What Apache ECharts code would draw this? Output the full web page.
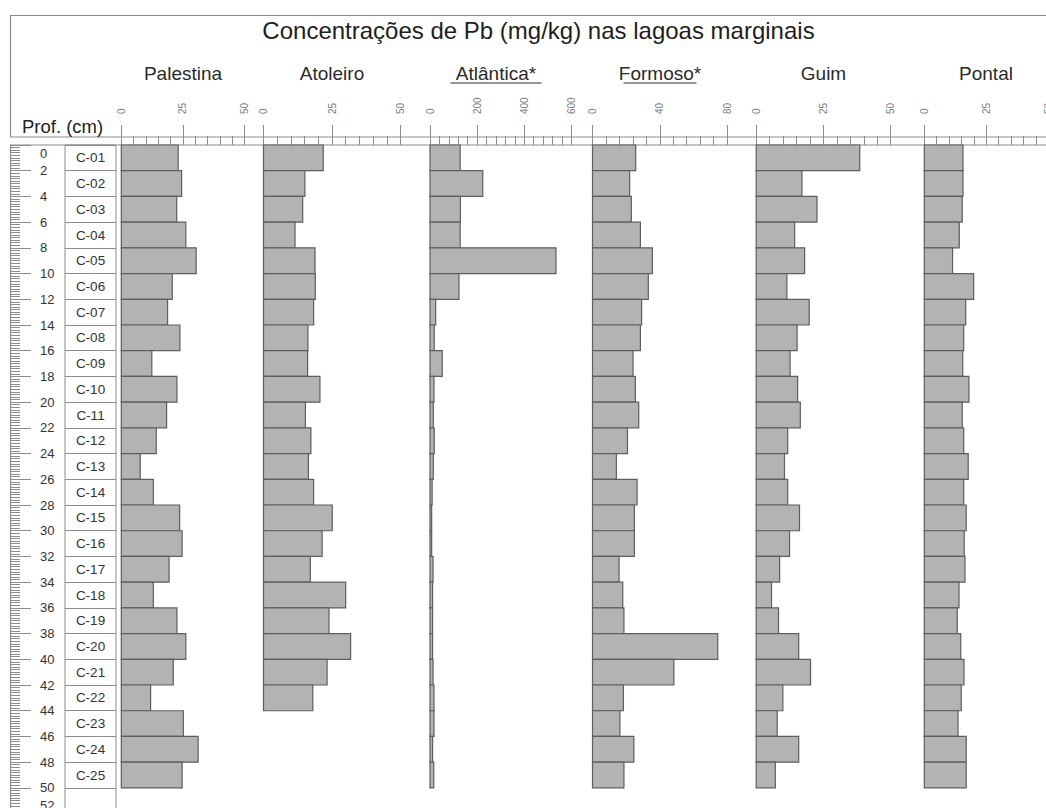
<!DOCTYPE html>
<html>
<head>
<meta charset="utf-8">
<title>Concentrações de Pb (mg/kg) nas lagoas marginais</title>
<script src="https://cdn.jsdelivr.net/npm/echarts@6.0.0/dist/echarts.min.js"></script>
<style>
  html, body { margin: 0; padding: 0; background: #ffffff; }
  #chart { width: 1046px; height: 808px; }
</style>
</head>
<body>
<div id="chart"></div>
<script>
// Core samples (2 cm slices) and Pb concentrations (mg/kg) per marginal lagoon
const samples = ['C-01','C-02','C-03','C-04','C-05','C-06','C-07','C-08','C-09','C-10',
                 'C-11','C-12','C-13','C-14','C-15','C-16','C-17','C-18','C-19','C-20',
                 'C-21','C-22','C-23','C-24','C-25'];
const depthTop = [0,2,4,6,8,10,12,14,16,18,20,22,24,26,28,30,32,34,36,38,40,42,44,46,48];
const sliceThickness = 2;

const palestina = [23.1,24.5,22.5,26.2,30.4,20.7,18.8,23.8,12.4,22.6,18.4,14.2,7.7,13.0,23.7,24.7,19.4,13.0,22.6,26.2,21.1,11.9,25.2,31.2,24.7];
const atoleiro  = [21.8,15.1,14.3,11.5,18.8,18.9,18.3,16.2,16.1,20.6,15.3,17.3,16.4,18.3,25.1,21.4,17.1,30.0,23.9,31.8,23.2,18.0];
const atlantica = [128,224,129,128,535,123,24,18,52,17,14,18,14,9,7,7,13,11,11,11,13,17,17,11,16];
const formoso   = [25.7,22.1,23.1,28.5,35.6,33.2,29.2,28.5,24.1,25.5,27.5,20.8,14.2,26.5,24.9,24.9,15.8,18.0,18.7,74.5,48.4,18.4,16.3,24.6,18.7];
const guim      = [38.5,17.0,22.6,14.3,18.0,11.4,19.7,15.2,12.6,15.4,16.4,11.7,10.5,11.7,16.1,12.4,8.7,5.7,8.3,15.8,20.2,9.9,7.8,15.8,7.1];
const pontal    = [15.6,15.6,15.3,14.1,11.4,19.9,16.7,15.9,15.5,18.0,15.3,15.9,17.7,15.9,16.9,16.1,16.4,14.0,13.3,14.7,16.0,14.9,13.6,16.9,16.9];

const lagoonNames  = ['Palestina','Atoleiro','Atlântica*','Formoso*','Guim','Pontal'];
const lagoonValues = [palestina, atoleiro, atlantica, formoso, guim, pontal];
const axisMax  = [50, 50, 600, 80, 50, 50];
const axisStep = [25, 25, 200, 40, 25, 25];
const underlined = [false, false, true, true, false, false];

const mainTitle = 'Concentrações de Pb (mg/kg) nas lagoas marginais';
const depthTitle = 'Prof. (cm)';
const depthMin = 0, depthMax = 52, depthStep = 2;

// ---- layout (pixels) ----
const FONT = "'Liberation Sans', Arial, sans-serif";
const LINE = '#8c8c8c';
const plotTop = 145, plotHeight = 668.6;
const panelX = [[121.3, 244.4], [263.5, 400.5], [430.0, 571.3], [592.5, 727.0], [756.2, 890.7], [924.3, 1048.3]];
const titleCenter = [183, 332, 496, 660, 823.5, 986];

const chart = echarts.init(document.getElementById('chart'), null, { renderer: 'svg' });

// grids may run past the canvas edge, so keep them exactly where they are placed
const fixedGrid = { outerBoundsMode: 'none', containLabel: false };

const depthLabelStyle = { fontSize: 13, color: '#333', fontFamily: FONT };

const grid = [
  Object.assign({ left: 10, top: plotTop, width: 1, height: plotHeight }, fixedGrid),      // depth ruler
  Object.assign({ left: 65, top: plotTop, width: 51, height: plotHeight, show: true,
    borderColor: LINE, borderWidth: 1, backgroundColor: 'transparent' }, fixedGrid)         // sample column
];
const xAxis = [
  { gridIndex: 0, type: 'value', show: false, min: 0, max: 1 },
  { gridIndex: 1, type: 'value', show: false, min: 0, max: 1 }
];
const yAxis = [
  {
    gridIndex: 0, type: 'value', inverse: true, position: 'left',
    min: depthMin, max: depthMax, interval: depthStep,
    axisLine: { show: true, lineStyle: { color: LINE, width: 1 } },
    axisTick: { show: true, inside: true, length: 21, lineStyle: { color: LINE, width: 1 } },
    minorTick: { show: true, splitNumber: 10, length: 10, lineStyle: { color: LINE, width: 1 } },
    axisLabel: Object.assign({
      inside: true, margin: 30,
      // end labels are nudged inward so they sit inside the frame
      formatter: v => v === depthMin ? '{first|' + v + '}' : (v === depthMax ? '{last|' + v + '}' : String(v)),
      rich: {
        first: Object.assign({ padding: [16, 0, 0, 0] }, depthLabelStyle),
        last: Object.assign({ padding: [0, 0, 16, 0] }, depthLabelStyle)
      }
    }, depthLabelStyle),
    splitLine: { show: false }
  },
  {
    gridIndex: 1, type: 'value', inverse: true,
    min: depthMin, max: depthMax, interval: depthStep,
    axisLine: { show: false }, axisTick: { show: false }, axisLabel: { show: false },
    splitLine: { show: true, lineStyle: { color: LINE, width: 1 } }
  }
];

const series = [{
  type: 'custom', xAxisIndex: 1, yAxisIndex: 1,
  data: samples.map((s, i) => [0.5, depthTop[i] + sliceThickness / 2]),
  renderItem: (params, api) => {
    const p = api.coord([api.value(0), api.value(1)]);
    return {
      type: 'text', x: p[0], y: p[1],
      style: { text: samples[params.dataIndex], align: 'center', verticalAlign: 'middle',
               fontSize: 13.5, fill: '#333', fontFamily: FONT }
    };
  }
}];

lagoonValues.forEach((vals, k) => {
  const g = grid.length;
  grid.push(Object.assign({ left: panelX[k][0], top: plotTop, width: panelX[k][1] - panelX[k][0], height: plotHeight }, fixedGrid));
  xAxis.push({
    gridIndex: g, type: 'value', position: 'top', offset: 8,
    min: 0, max: axisMax[k], interval: axisStep[k],
    axisLine: { show: false },
    axisTick: { show: true, length: 20, lineStyle: { color: LINE, width: 1 } },
    minorTick: { show: true, splitNumber: 5, length: 9, lineStyle: { color: LINE, width: 1 } },
    axisLabel: { rotate: 90, margin: 23, fontSize: 10, color: '#7a7a7a', fontFamily: FONT },
    splitLine: { show: false }, minorSplitLine: { show: false }
  });
  yAxis.push({ gridIndex: g, type: 'value', inverse: true, min: depthMin, max: depthMax, show: false });
  series.push({
    type: 'custom', name: lagoonNames[k], xAxisIndex: g, yAxisIndex: g,
    data: vals.map((v, i) => [v, depthTop[i]]),
    renderItem: (params, api) => {
      const d = api.value(1);
      const a = api.coord([0, d]);
      const b = api.coord([api.value(0), d + sliceThickness]);
      return {
        type: 'rect',
        shape: { x: a[0], y: a[1], width: b[0] - a[0], height: b[1] - a[1] },
        style: { fill: '#b3b3b3', stroke: '#5e5e5e', lineWidth: 1.2 }
      };
    }
  });
});

const graphic = [
  { type: 'rect', z: -1, shape: { x: 10.5, y: 15.5, width: 1100, height: 121.5 },
    style: { fill: 'none', stroke: LINE, lineWidth: 1.2 } },
  { type: 'rect', z: -1, shape: { x: 10.5, y: 145, width: 1100, height: 700 },
    style: { fill: 'none', stroke: LINE, lineWidth: 1.2 } },
  { type: 'text', x: 538.5, y: 30,
    style: { text: mainTitle, align: 'center', verticalAlign: 'middle', fontSize: 24, fill: '#1e1e1e', fontFamily: FONT } },
  { type: 'text', x: 22, y: 126,
    style: { text: depthTitle, align: 'left', verticalAlign: 'middle', fontSize: 18.5, fill: '#222', fontFamily: FONT } }
];
lagoonNames.forEach((name, k) => {
  graphic.push({ type: 'text', x: titleCenter[k], y: 73.5,
    style: { text: name, align: 'center', verticalAlign: 'middle', fontSize: 19, fill: '#2a2a2a', fontFamily: FONT } });
  if (underlined[k]) {
    const w = name.length * 9.1;
    graphic.push({ type: 'line', shape: { x1: titleCenter[k] - w / 2, y1: 83, x2: titleCenter[k] + w / 2, y2: 83 },
      style: { stroke: '#2a2a2a', lineWidth: 1.2 } });
  }
});

chart.setOption({
  animation: false,
  backgroundColor: '#ffffff',
  grid, xAxis, yAxis, series, graphic
});
</script>
</body>
</html>
